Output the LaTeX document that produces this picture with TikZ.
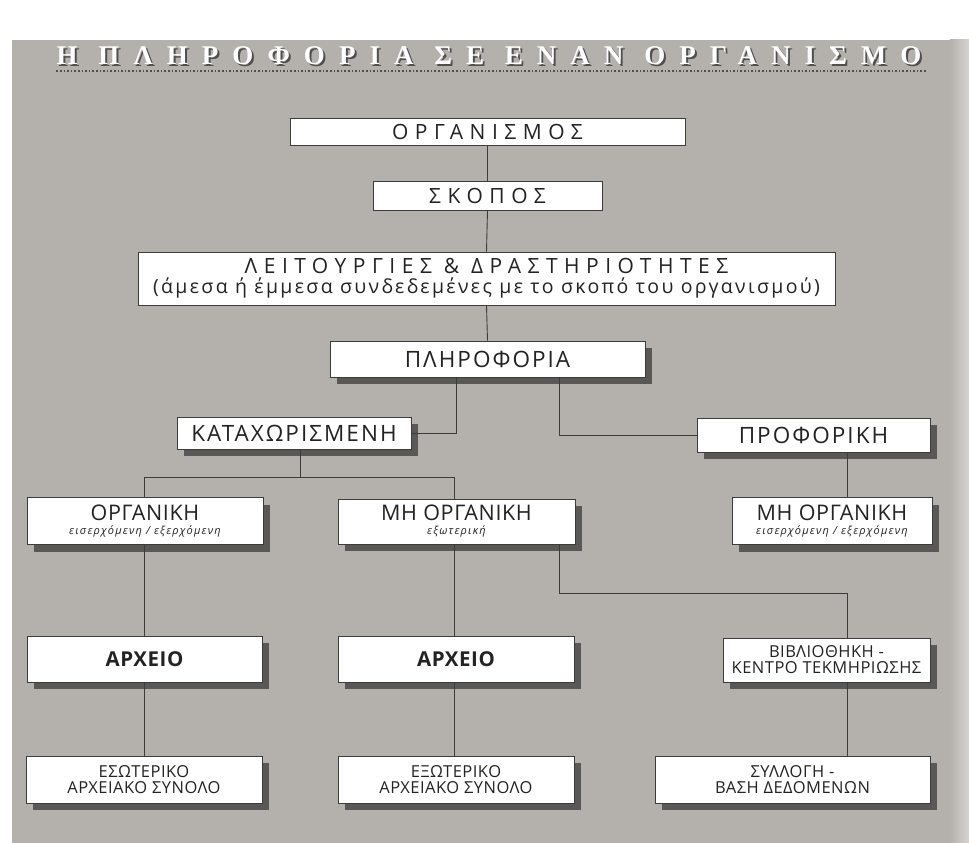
\documentclass[tikz,border=0pt]{standalone}
\usepackage{fontspec}
\setmainfont{Open Sans}[LetterSpace=9]
\newfontfamily\titlefont[LetterSpace=52]{Liberation Serif}
\newfontfamily\spacedfont[LetterSpace=31]{Open Sans}
\newfontfamily\subfont[LetterSpace=12]{Open Sans}
\newfontfamily\smallfont[LetterSpace=11]{Open Sans}
\newfontfamily\boxfont[LetterSpace=3]{Open Sans}
\usetikzlibrary{shadows,calc}
\definecolor{bggrey}{RGB}{180,177,173}
\definecolor{edgegrey}{RGB}{214,212,209}
\definecolor{linegrey}{RGB}{60,60,60}
\definecolor{shadowgrey}{RGB}{80,79,77}
\definecolor{inkgrey}{RGB}{35,35,35}
\begin{document}
\begin{tikzpicture}[x=1pt,y=-1pt,
  box/.style={draw=linegrey, line width=0.9pt, fill=white, inner sep=0pt, align=center, text=inkgrey},
  sbox/.style={box, drop shadow={shadow xshift=7pt, shadow yshift=-7pt, fill=shadowgrey, opacity=0.9}},
  link/.style={draw=linegrey, line width=0.9pt},
  big/.style={font=\fontsize{22.5}{24}\selectfont},
  mid/.style={font=\boxfont\fontsize{16.5}{19}\selectfont},
  top/.style={font=\spacedfont\fontsize{21}{24}\selectfont},
  titlestyle/.style={font=\titlefont\bfseries\fontsize{27}{29}\selectfont, inner sep=0pt}]
\useasboundingbox (0,0) rectangle (969,843);
\fill[white] (0,0) rectangle (969,843);
\fill[bggrey] (12,40) rectangle (958,843);
\shade[left color=bggrey, right color=edgegrey] (950,40) rectangle (969,843);

% title
\node[titlestyle, text=shadowgrey] (titleshadow) at (491,58) {Η ΠΛΗΡΟΦΟΡΙΑ ΣΕ ΕΝΑΝ ΟΡΓΑΝΙΣΜΟ};
\node[titlestyle, text=white] (title) at (489,56) {Η ΠΛΗΡΟΦΟΡΙΑ ΣΕ ΕΝΑΝ ΟΡΓΑΝΙΣΜΟ};
\draw[shadowgrey, line width=1.6pt, dotted] ([yshift=-6pt]title.south west) -- ([yshift=-6pt,xshift=6pt]title.south east);

% nodes
\node[box, top, minimum width=395, minimum height=27] (org) at (487.5,131.5) {ΟΡΓΑΝΙΣΜΟΣ};
\node[box, top, minimum width=229, minimum height=29] (skopos) at (487.5,195.5) {ΣΚΟΠΟΣ};
\node[box, minimum width=697, minimum height=53] (leit) at (486.5,278.5)
  {{\spacedfont\fontsize{21}{23}\selectfont ΛΕΙΤΟΥΡΓΙΕΣ \& ΔΡΑΣΤΗΡΙΟΤΗΤΕΣ}\\[3pt]
   {\subfont\fontsize{19.5}{21}\selectfont (άμεσα ή έμμεσα συνδεδεμένες με το σκοπό του οργανισμού)}};
\node[sbox, big, minimum width=315, minimum height=36] (plir) at (487.5,359) {ΠΛΗΡΟΦΟΡΙΑ};
\node[sbox, big, minimum width=234, minimum height=32] (katax) at (294,433) {ΚΑΤΑΧΩΡΙΣΜΕΝΗ};
\node[sbox, big, minimum width=233, minimum height=34] (prof) at (813.5,435) {ΠΡΟΦΟΡΙΚΗ};
\node[sbox, minimum width=236, minimum height=47] (organ) at (145,521)
  {{\boxfont\fontsize{21.5}{21}\selectfont ΟΡΓΑΝΙΚΗ}\\[2pt]{\smallfont\fontsize{11}{12}\selectfont\itshape εισερχόμενη / εξερχόμενη}};
\node[sbox, minimum width=237, minimum height=45] (mhorg) at (456.5,521.5)
  {{\boxfont\fontsize{21.5}{21}\selectfont ΜΗ ΟΡΓΑΝΙΚΗ}\\[2pt]{\smallfont\fontsize{11}{12}\selectfont\itshape εξωτερική}};
\node[sbox, minimum width=200, minimum height=47] (mhorgb) at (832,521)
  {{\boxfont\fontsize{21.5}{21}\selectfont ΜΗ ΟΡΓΑΝΙΚΗ}\\[2pt]{\smallfont\fontsize{11}{12}\selectfont\itshape εισερχόμενη / εξερχόμενη}};
\node[sbox, font=\boxfont\fontsize{20.5}{22}\selectfont\bfseries, minimum width=235, minimum height=46] (arxa) at (144.5,659) {ΑΡΧΕΙΟ};
\node[sbox, font=\boxfont\fontsize{20.5}{22}\selectfont\bfseries, minimum width=236, minimum height=46] (arxb) at (456,659) {ΑΡΧΕΙΟ};
\node[sbox, mid, minimum width=207, minimum height=44] (vivl) at (826.5,660) {ΒΙΒΛΙΟΘΗΚΗ -\\[-3pt]ΚΕΝΤΡΟ ΤΕΚΜΗΡΙΩΣΗΣ};
\node[sbox, mid, minimum width=236, minimum height=47] (eso) at (144,779.5) {ΕΣΩΤΕΡΙΚΟ\\[-3pt]ΑΡΧΕΙΑΚΟ ΣΥΝΟΛΟ};
\node[sbox, mid, minimum width=236, minimum height=47] (exo) at (456,779.5) {ΕΞΩΤΕΡΙΚΟ\\[-3pt]ΑΡΧΕΙΑΚΟ ΣΥΝΟΛΟ};
\node[sbox, mid, minimum width=275, minimum height=47] (syl) at (792.5,779.5) {ΣΥΛΛΟΓΗ -\\[-3pt]ΒΑΣΗ ΔΕΔΟΜΕΝΩΝ};

% guide coordinates
\coordinate (lx) at (144,0);
\coordinate (cx) at (454,0);
\coordinate (mx) at (559,0);
\coordinate (rx) at (847,0);
\coordinate (kx) at (456,0);
\coordinate (jx) at (300,0);
\coordinate (jrow) at (0,477);
\coordinate (vrow) at (0,593);

% connectors
\draw[link] (org.south) -- (skopos.north);
\draw[link] (skopos.south) -- (leit.north);
\draw[link] (leit.south) -- (plir.north);
\draw[link] (plir.south -| kx) |- (katax.east);
\draw[link] (plir.south -| mx) |- (prof.west);
\draw[link] (katax.south -| jx) -- (jx |- jrow);
\draw[link] (organ.north -| lx) -- (lx |- jrow) -- (cx |- jrow) -- (mhorg.north -| cx);
\draw[link] (prof.south -| rx) -- (mhorgb.north -| rx);
\draw[link] (organ.south -| lx) -- (arxa.north -| lx);
\draw[link] (mhorg.south -| cx) -- (arxb.north -| cx);
\draw[link] (mhorg.south -| mx) -- (mx |- vrow) -- (rx |- vrow) -- (vivl.north -| rx);
\draw[link] (arxa.south -| lx) -- (eso.north -| lx);
\draw[link] (arxb.south -| cx) -- (exo.north -| cx);
\draw[link] (vivl.south -| rx) -- (syl.north -| rx);
\end{tikzpicture}
\end{document}
